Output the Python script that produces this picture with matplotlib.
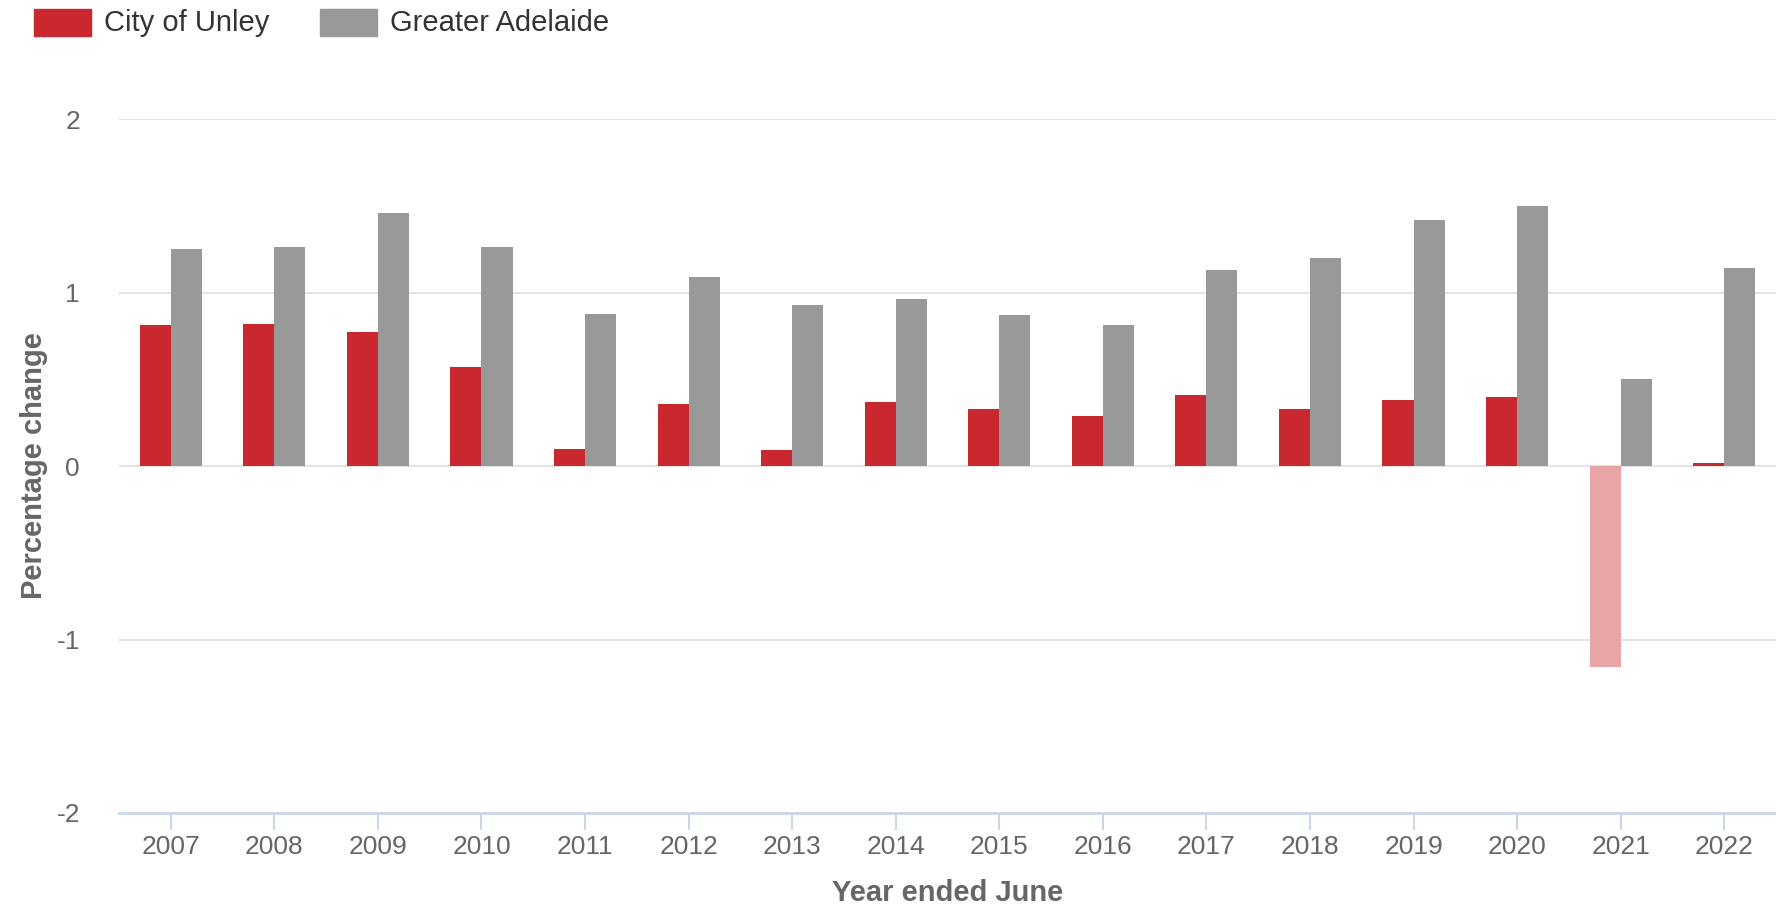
import numpy as np
import matplotlib.pyplot as plt
from matplotlib.patches import Rectangle

plt.rcParams['font.family'] = ['Liberation Sans', 'DejaVu Sans']

RED = "#c8282e"
RED_LIGHT = "#e8a4a7"
GREY = "#999999"
TXT = "#666666"
GRID = "#e0e0e0"
AXIS = "#ccd6eb"

years = ["2007", "2008", "2009", "2010", "2011", "2012", "2013", "2014",
         "2015", "2016", "2017", "2018", "2019", "2020", "2021", "2022"]
unley = [0.81, 0.82, 0.77, 0.57, 0.10, 0.36, 0.09, 0.37,
         0.33, 0.29, 0.41, 0.33, 0.38, 0.40, -1.16, 0.02]
adelaide = [1.25, 1.26, 1.46, 1.26, 0.875, 1.09, 0.93, 0.96,
            0.87, 0.81, 1.13, 1.20, 1.42, 1.50, 0.50, 1.14]
highlight_year = "2021"
yticks = [-2, -1, 0, 1, 2]

fig = plt.figure(figsize=(17.76, 9.09), dpi=100)
ax = fig.add_axes([119 / 1776, 1 - 813 / 909, 1 - 119 / 1776, (813 - 119) / 909])

x = np.arange(len(years))
w = 0.3
red_cols = [RED_LIGHT if y == highlight_year else RED for y in years]
ax.bar(x - w / 2, unley, width=w, color=red_cols, zorder=3)
ax.bar(x + w / 2, adelaide, width=w, color=GREY, zorder=3)

ax.set_xlim(-0.5, len(years) - 0.5)
ax.set_ylim(-2, 2)
ax.set_yticks(yticks)
ax.set_yticklabels([str(t) for t in yticks])
ax.set_xticks(x)
ax.set_xticklabels(years)
for t in yticks[1:]:
    ax.axhline(t, color=GRID, lw=1.3, zorder=1)

for s in ["top", "right", "left"]:
    ax.spines[s].set_visible(False)
ax.spines["bottom"].set_color(AXIS)
ax.spines["bottom"].set_linewidth(2)
ax.tick_params(axis="x", colors=AXIS, length=12, width=1.5, labelcolor=TXT,
               labelsize=19, pad=4)
ax.tick_params(axis="y", length=0, labelcolor=TXT, labelsize=19, pad=28)

ax.set_xlabel("Year ended June", fontsize=21, fontweight="bold", color=TXT, labelpad=14)
ax.set_ylabel("Percentage change", fontsize=21, fontweight="bold", color=TXT, labelpad=6)

# legend
W, H = 1776, 909
def legend_item(x0, label, color):
    fig.patches.append(Rectangle((x0 / W, 1 - 36 / H), 57 / W, 27 / H,
                                 transform=fig.transFigure, color=color))
    fig.text((x0 + 70) / W, 1 - 23 / H, label, fontsize=21, color="#333333",
             va="center", ha="left")

legend_item(34, "City of Unley", RED)
legend_item(320, "Greater Adelaide", GREY)

fig.savefig("out.png", dpi=100, facecolor="white")
